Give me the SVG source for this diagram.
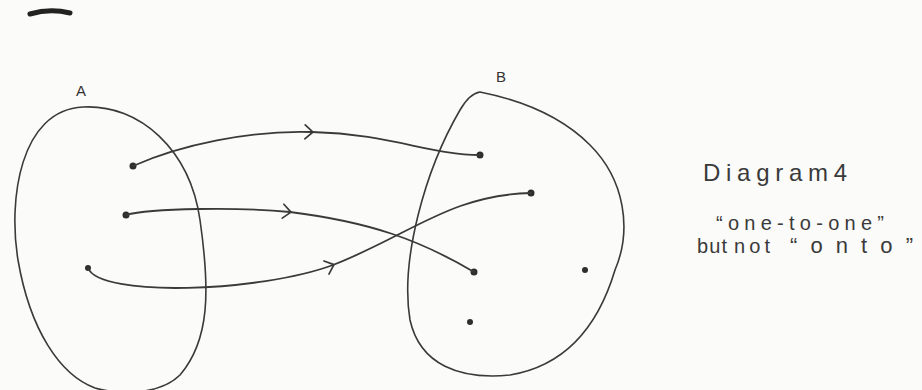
<svg xmlns="http://www.w3.org/2000/svg" width="922" height="390" viewBox="0 0 922 390">
<defs>
<marker id="chev" markerWidth="18" markerHeight="18" refX="9" refY="9" orient="auto" markerUnits="userSpaceOnUse">
<path d="M2,2 L10,9 L2,16" fill="none" stroke="#3a3a3a" stroke-width="1.7" stroke-linecap="round" stroke-linejoin="round"/>
</marker>
</defs>
<style>
.set{fill:none;stroke:#3a3a3a;stroke-width:1.6;stroke-linejoin:round}
.edge{fill:none;stroke:#3a3a3a;stroke-width:1.8;stroke-linecap:round;marker-mid:url(#chev)}
.dot{fill:#2e2e2e}
.lbl{font-family:"Liberation Sans","DejaVu Sans",sans-serif;fill:#333;font-size:15px}
.note{font-family:"Liberation Sans","DejaVu Sans",sans-serif;fill:#3a3a3a;font-size:20px}
</style>
<rect width="922" height="390" fill="#fbfbf9"/>
<path d="M30,14 Q50,8 70,13" fill="none" stroke="#222" stroke-width="5" stroke-linecap="round"/>
<g id="setA">
<path class="set" d="M83,107 C140,104 190,150 200,220 C210,290 210,340 180,375 C160,395 120,395 95,388 C60,375 30,330 18,260 C8,200 20,110 83,107 Z"/>
<text class="lbl" x="76" y="96">A</text>
<circle class="dot" cx="133" cy="166" r="3.5"/>
<circle class="dot" cx="126" cy="215" r="3.5"/>
<circle class="dot" cx="88" cy="268" r="3"/>
</g>
<g id="setB">
<path class="set" d="M480,92 C520,100 560,115 590,145 C625,180 632,230 615,270 C600,320 570,365 510,375 C460,380 420,365 410,320 C400,260 425,170 460,110 C467,98 473,93 480,92 Z"/>
<text class="lbl" x="496" y="82">B</text>
<circle class="dot" cx="480" cy="155" r="3.5"/>
<circle class="dot" cx="531" cy="193" r="3.5"/>
<circle class="dot" cx="474" cy="272" r="3.5"/>
<circle class="dot" cx="585" cy="270" r="3"/>
<circle class="dot" cx="470" cy="322" r="3"/>
</g>
<g id="connectors">
<path class="edge" d="M133,166 C180,145 250,130 312,132 C390,134 430,155 480,155"/>
<path class="edge" d="M126,215 C150,208 240,207 290,212 C370,222 420,240 474,272"/>
<path class="edge" d="M88,268 C100,298 260,292 333,265 C410,235 450,195 531,193"/>
</g>
<g id="caption">
<text class="note" x="703" y="181" style="font-size:24px" textLength="144" lengthAdjust="spacing">Diagram4</text>
<text class="note" x="716" y="230" textLength="168" lengthAdjust="spacing">“one-to-one”</text>
<text class="note" x="697" y="253" textLength="30" lengthAdjust="spacing">but</text>
<text class="note" x="734" y="253" textLength="36" lengthAdjust="spacing">not</text>
<text class="note" x="790" y="253" style="font-size:22px" textLength="123" lengthAdjust="spacing">“onto”</text>
</g>
</svg>
